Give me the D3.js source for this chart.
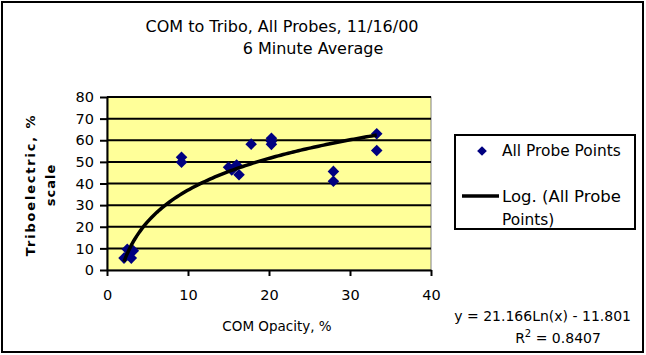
<!DOCTYPE html>
<html><head><meta charset="utf-8">
<script src="https://cdn.jsdelivr.net/npm/d3@7/dist/d3.min.js"></script>
<style>body{margin:0;background:#fff}svg{display:block}</style>
</head><body>
<script>
const xValues = [2.1, 3.0, 2.5, 3.25, 2.6, 9.2, 9.2, 15.0, 15.4, 16.0, 16.3, 17.8, 20.3, 20.3, 20.3, 27.95, 27.95, 33.3, 33.3];
const yValues = [5.5, 5.5, 9.6, 8.9, 7.0, 52.1, 49.8, 47.5, 46.3, 48.6, 44.0, 58.2, 60.9, 59.5, 58.1, 45.6, 41.0, 63.0, 55.3];
const xTicks = [0, 10, 20, 30, 40];
const yTicks = [0, 10, 20, 30, 40, 50, 60, 70, 80];
const trendA = 21.166, trendB = -11.801;
const titleLines = ["COM to Tribo, All Probes, 11/16/00", "6 Minute Average"];

const W = 646, H = 355;
const font = "'DejaVu Sans', sans-serif";
const svg = d3.select("body").append("svg").attr("width", W).attr("height", H);

function fit(sel, width) {
  const len = sel.node().getComputedTextLength();
  const fs = +sel.attr("font-size");
  sel.attr("font-size", (fs * width / len).toFixed(2));
  return sel;
}

svg.append("rect").attr("x", 2).attr("y", 2).attr("width", 641).attr("height", 350)
  .attr("fill", "#fff").attr("stroke", "#000").attr("stroke-width", 2);

const L = 107, R = 431, T = 97, B = 270;
const x = d3.scaleLinear().domain([0, 40]).range([L, R]);
const y = d3.scaleLinear().domain([0, 80]).range([B, T]);

svg.append("rect").attr("x", L).attr("y", T).attr("width", R - L).attr("height", B - T)
  .attr("fill", "#FFFF99").attr("stroke", "#808080").attr("stroke-width", 1);

svg.append("g").selectAll("line").data(yTicks.filter(d => d > 0)).join("line")
  .attr("x1", L).attr("x2", R).attr("y1", d => y(d)).attr("y2", d => y(d))
  .attr("stroke", "#000").attr("stroke-width", 2);

const gx = svg.append("g").attr("transform", `translate(0,${B})`)
  .call(d3.axisBottom(x).tickValues(xTicks).tickSize(6).tickSizeOuter(0).tickPadding(14));
const gy = svg.append("g").attr("transform", `translate(${L},0)`)
  .call(d3.axisLeft(y).tickValues(yTicks).tickSize(7).tickSizeOuter(0).tickPadding(6));
[gx, gy].forEach(g => {
  g.selectAll("path").attr("stroke", "#000").attr("stroke-width", 2);
  g.selectAll("line").attr("stroke", "#000").attr("stroke-width", 2);
  g.selectAll("text").attr("font-family", font).attr("font-size", 14.5).attr("fill", "#000");
});

const xmin = d3.min(xValues), xmax = d3.max(xValues);
const trendPts = d3.range(0, 101).map(i => {
  const xv = xmin + (xmax - xmin) * i / 100;
  return [xv, trendA * Math.log(xv) + trendB];
});

const diamond = d3.symbol().type(d3.symbolDiamond2).size(85);
svg.append("g").selectAll("path").data(xValues.map((d, i) => [d, yValues[i]])).join("path")
  .attr("d", diamond).attr("transform", d => `translate(${x(d[0])},${y(d[1])})`)
  .attr("fill", "#000080");

svg.append("path").datum(trendPts)
  .attr("d", d3.line().x(d => x(d[0])).y(d => y(d[1])))
  .attr("fill", "none").attr("stroke", "#000").attr("stroke-width", 3.5);

// title
svg.append("text").attr("x", 282).attr("y", 32).attr("text-anchor", "middle")
  .attr("font-family", font).attr("font-size", 16).text(titleLines[0]);
svg.append("text").attr("x", 313).attr("y", 54).attr("text-anchor", "middle")
  .attr("font-family", font).attr("font-size", 16).text(titleLines[1]);

// axis titles
svg.append("text").attr("x", 277).attr("y", 331).attr("text-anchor", "middle")
  .attr("font-family", font).attr("font-size", 13.5).text("COM Opacity, %");
const yt = svg.append("g").attr("transform", "translate(0,185) rotate(-90)");
yt.append("text").attr("x", 0).attr("y", 35).attr("text-anchor", "middle")
  .attr("font-family", font).attr("font-weight", "bold").attr("font-size", 13)
  .attr("letter-spacing", 1.8).text("Triboelectric, %");
yt.append("text").attr("x", 0).attr("y", 55).attr("text-anchor", "middle")
  .attr("font-family", font).attr("font-weight", "bold").attr("font-size", 13)
  .attr("letter-spacing", 1).text("scale");

// legend
svg.append("rect").attr("x", 455).attr("y", 135).attr("width", 180).attr("height", 94)
  .attr("fill", "#fff").attr("stroke", "#000").attr("stroke-width", 2);
svg.append("path").attr("d", d3.symbol().type(d3.symbolDiamond2).size(60))
  .attr("transform", "translate(482,151)").attr("fill", "#000080");
fit(svg.append("text").attr("x", 502).attr("y", 156).attr("font-family", font).attr("font-size", 14).text("All Probe Points"), 119);
svg.append("line").attr("x1", 462).attr("x2", 499).attr("y1", 196).attr("y2", 196)
  .attr("stroke", "#000").attr("stroke-width", 3.5);
fit(svg.append("text").attr("x", 502).attr("y", 202).attr("font-family", font).attr("font-size", 14).text("Log. (All Probe"), 119);
svg.append("text").attr("x", 502).attr("y", 225).attr("font-family", font).attr("font-size", 15.4).text("Points)");

// equation
svg.append("text").attr("x", 631).attr("y", 321).attr("text-anchor", "end")
  .attr("font-family", font).attr("font-size", 14).text("y = 21.166Ln(x) - 11.801");
const r2 = svg.append("text").attr("x", 558).attr("y", 343).attr("text-anchor", "middle")
  .attr("font-family", font).attr("font-size", 14);
r2.append("tspan").text("R");
r2.append("tspan").attr("dy", -6).attr("font-size", 10).text("2");
r2.append("tspan").attr("dy", 6).text(" = 0.8407");
</script>
</body></html>
